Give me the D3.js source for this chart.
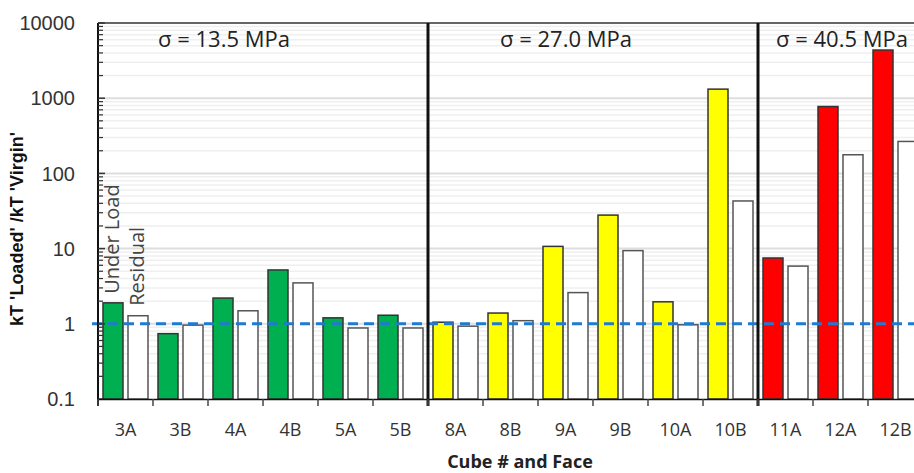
<!DOCTYPE html>
<html>
<head>
<meta charset="utf-8">
<script src="https://cdn.jsdelivr.net/npm/d3@7"></script>
<style>
  body { margin: 0; background: #fff; }
  svg { display: block; }
</style>
</head>
<body>
<div id="chart"></div>
<script>
// kT ratio per cube face, log scale bars

const cubes = ["3A","3B","4A","4B","5A","5B","8A","8B","9A","9B","10A","10B","11A","12A","12B"];
const underLoad = [1.9, 0.74, 2.2, 5.2, 1.2, 1.3, 1.05, 1.39, 10.7, 27.9, 1.96, 1320, 7.5, 775, 4370];
const residual = [1.28, 0.96, 1.49, 3.5, 0.88, 0.88, 0.93, 1.1, 2.6, 9.4, 0.97, 43, 5.85, 177, 266];
const stress = [13.5,13.5,13.5,13.5,13.5,13.5,27.0,27.0,27.0,27.0,27.0,27.0,40.5,40.5,40.5];
const stressLevels = [13.5, 27.0, 40.5];
const stressLabels = ["σ = 13.5 MPa", "σ = 27.0 MPa", "σ = 40.5 MPa"];
const stressColors = ["#00b050", "#ffff00", "#ff0000"];
const yTicks = [0.1, 1, 10, 100, 1000, 10000];

const width = 914, height = 473,
    margin = ({ top: 23, right: -9, bottom: 74, left: 98 });

// where the section titles sit (center x, px)
const titleX = [224, 566, 842];

const svg = d3.select("#chart")
  .append("svg")
  .attr("width", width)
  .attr("height", height);

const x = d3.scaleBand()
  .domain(cubes)
  .range([margin.left, width - margin.right]);

const sub = d3.scaleBand()
  .domain(["load", "res"])
  .range([0, x.bandwidth()])
  .paddingInner(0.2)
  .paddingOuter(0.2);

const y = d3.scaleLog()
  .domain([0.1, 10000])
  .range([height - margin.bottom, margin.top]);

const color = d3.scaleOrdinal().domain(stressLevels).range(stressColors);

// grid lines (minor + major)
const minor = [];
yTicks.slice(0, -1).forEach(t => { for (let k = 2; k <= 9; k++) minor.push(t * k); });

svg.append("g")
  .selectAll("line")
  .data(minor)
  .join("line")
  .attr("x1", margin.left).attr("x2", width)
  .attr("y1", d => y(d)).attr("y2", d => y(d))
  .attr("stroke", "#efefef")
  .attr("stroke-width", 1.5);

svg.append("g")
  .selectAll("line")
  .data(yTicks.slice(1, -1))
  .join("line")
  .attr("x1", margin.left).attr("x2", width)
  .attr("y1", d => y(d)).attr("y2", d => y(d))
  .attr("stroke", "#dedede")
  .attr("stroke-width", 2);

// top border
svg.append("line")
  .attr("x1", margin.left).attr("x2", width)
  .attr("y1", margin.top).attr("y2", margin.top)
  .attr("stroke", "#666").attr("stroke-width", 2);

// bars
const g = svg.append("g")
  .selectAll("g")
  .data(cubes.map((c, i) => ({ c, load: underLoad[i], res: residual[i], s: stress[i] })))
  .join("g")
  .attr("transform", d => `translate(${x(d.c)},0)`);

g.append("rect")
  .attr("x", sub("load"))
  .attr("width", sub.bandwidth())
  .attr("y", d => y(d.load))
  .attr("height", d => y(0.1) - y(d.load))
  .attr("fill", d => color(d.s))
  .attr("stroke", "#333")
  .attr("stroke-width", 1.5);

g.append("rect")
  .attr("x", sub("res"))
  .attr("width", sub.bandwidth())
  .attr("y", d => y(d.res))
  .attr("height", d => y(0.1) - y(d.res))
  .attr("fill", "#fff")
  .attr("stroke", "#555")
  .attr("stroke-width", 1.5);

// rotated series labels over the first pair
const first = cubes[0];
svg.append("text")
  .attr("transform", `translate(${x(first) + sub("load") + 16},${y(underLoad[0]) - 9}) rotate(-90)`)
  .attr("font-family", "Open Sans, sans-serif")
  .attr("font-size", 20)
  .attr("fill", "#444")
  .text("Under Load");

svg.append("text")
  .attr("transform", `translate(${x(first) + sub("res") + 16},${y(residual[0]) - 10}) rotate(-90)`)
  .attr("font-family", "Open Sans, sans-serif")
  .attr("font-size", 20)
  .attr("fill", "#444")
  .text("Residual");

// reference line at 1
svg.append("line")
  .attr("x1", margin.left - 6).attr("x2", width)
  .attr("y1", y(1)).attr("y2", y(1))
  .attr("stroke", "#1f7bd1")
  .attr("stroke-width", 3)
  .attr("stroke-dasharray", "10,6");

// section separators
const sepIdx = stressLevels.slice(1).map(s => stress.indexOf(s));
svg.append("g")
  .selectAll("line")
  .data(sepIdx)
  .join("line")
  .attr("x1", d => x(cubes[d])).attr("x2", d => x(cubes[d]))
  .attr("y1", margin.top).attr("y2", y(0.1) + 7)
  .attr("stroke", "#111")
  .attr("stroke-width", 3);

// section titles
svg.append("g")
  .selectAll("text")
  .data(stressLabels)
  .join("text")
  .attr("x", (d, i) => titleX[i])
  .attr("y", 47)
  .attr("text-anchor", "middle")
  .attr("font-family", "Open Sans, sans-serif")
  .attr("font-size", 22)
  .attr("fill", "#222")
  .text(d => d);

// y axis
const yAxis = svg.append("g");
yAxis.append("line")
  .attr("x1", margin.left).attr("x2", margin.left)
  .attr("y1", margin.top).attr("y2", y(0.1) + 7)
  .attr("stroke", "#111").attr("stroke-width", 2);
yAxis.selectAll(".minor")
  .data(minor)
  .join("line")
  .attr("x1", margin.left).attr("x2", margin.left + 5)
  .attr("y1", d => y(d)).attr("y2", d => y(d))
  .attr("stroke", "#333").attr("stroke-width", 1.2);
yAxis.selectAll(".major")
  .data(yTicks)
  .join("line")
  .attr("x1", margin.left).attr("x2", margin.left + 7)
  .attr("y1", d => y(d)).attr("y2", d => y(d))
  .attr("stroke", "#333").attr("stroke-width", 1.5);
yAxis.selectAll("text")
  .data(yTicks)
  .join("text")
  .attr("x", 75)
  .attr("y", d => y(d))
  .attr("dy", "0.36em")
  .attr("text-anchor", "end")
  .attr("font-family", "Liberation Sans, Arial, sans-serif")
  .attr("font-size", 20)
  .attr("fill", "#333")
  .text(d => d3.format("~")(d));

svg.append("text")
  .attr("transform", `translate(23,229) rotate(-90)`)
  .attr("text-anchor", "middle")
  .attr("font-family", "Liberation Sans, Arial, sans-serif")
  .attr("font-weight", "bold")
  .attr("font-size", 18)
  .attr("fill", "#111")
  .text("kT 'Loaded' /kT 'Virgin'");

// x axis
const xAxis = svg.append("g")
  .attr("transform", `translate(0,${y(0.1)})`)
  .call(d3.axisBottom(x).tickSize(0).tickPadding(24));
xAxis.select(".domain").attr("stroke", "#111").attr("stroke-width", 1.5);
xAxis.selectAll("text")
  .attr("font-family", "Open Sans, sans-serif")
  .attr("font-size", 18)
  .attr("fill", "#333");

svg.append("g")
  .selectAll("line")
  .data(cubes)
  .join("line")
  .attr("x1", d => x(d)).attr("x2", d => x(d))
  .attr("y1", y(0.1)).attr("y2", y(0.1) + 7)
  .attr("stroke", "#444").attr("stroke-width", 1.5);

svg.append("text")
  .attr("x", 520)
  .attr("y", 468)
  .attr("text-anchor", "middle")
  .attr("font-family", "Open Sans, sans-serif")
  .attr("font-weight", "bold")
  .attr("font-size", 18)
  .attr("fill", "#222")
  .text("Cube # and Face");
</script>
</body>
</html>
